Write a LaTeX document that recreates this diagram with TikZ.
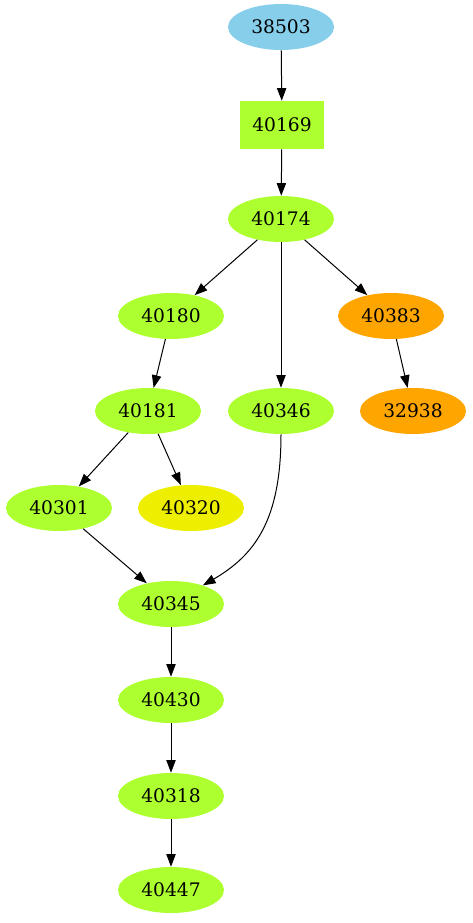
\documentclass[tikz,border=0pt]{standalone}
\usepackage{fontspec}
\setmainfont{DejaVu Serif}
\usetikzlibrary{arrows.meta,shapes.geometric}
\definecolor{skyb}{HTML}{87CEEB}
\definecolor{gy}{HTML}{ADFF2F}
\definecolor{org}{HTML}{FFA500}
\definecolor{yel}{HTML}{EEEE00}
\begin{document}
\begin{tikzpicture}[x=0.75pt,y=-0.75pt,
  ell/.style={ellipse,draw=none,fill=#1,minimum width=79.5pt,minimum height=34.5pt,inner sep=0pt,font=\fontsize{14}{16}\selectfont},
  boxn/.style={rectangle,draw=none,fill=#1,minimum width=63pt,minimum height=36pt,inner sep=0pt,font=\fontsize{14}{16}\selectfont},
  edge/.style={draw=black,line width=0.75pt,-{Triangle[length=9.5pt,width=7pt]}}]
\useasboundingbox (0,0) rectangle (473,923);
\node[ell=skyb] (n38503) at (281,27) {38503};
\node[boxn=gy] (n40169) at (282,125) {40169};
\node[ell=gy] (n40174) at (281,219) {40174};
\node[ell=gy] (n40180) at (171,316) {40180};
\node[ell=org] (n40383) at (391,316) {40383};
\node[ell=gy] (n40181) at (148,411) {40181};
\node[ell=gy] (n40346) at (281,411) {40346};
\node[ell=org] (n32938) at (413,411) {32938};
\node[ell=gy] (n40301) at (59,508) {40301};
\node[ell=yel] (n40320) at (191,508) {40320};
\node[ell=gy] (n40345) at (171,604) {40345};
\node[ell=gy] (n40430) at (171,700) {40430};
\node[ell=gy] (n40318) at (171,796) {40318};
\node[ell=gy] (n40447) at (171,890) {40447};
\draw[edge] (n38503) -- (n40169);
\draw[edge] (n40169) -- (n40174);
\draw[edge] (n40174) -- (n40180);
\draw[edge] (n40174) -- (n40346);
\draw[edge] (n40174) -- (n40383);
\draw[edge] (n40383) -- (n32938);
\draw[edge] (n40180) -- (n40181);
\draw[edge] (n40181) -- (n40301);
\draw[edge] (n40181) -- (n40320);
\draw[edge] (n40301) -- (n40345);
\draw[edge] (n40346) .. controls (281,520) and (255,555) .. (n40345);
\draw[edge] (n40345) -- (n40430);
\draw[edge] (n40430) -- (n40318);
\draw[edge] (n40318) -- (n40447);
\end{tikzpicture}
\end{document}
